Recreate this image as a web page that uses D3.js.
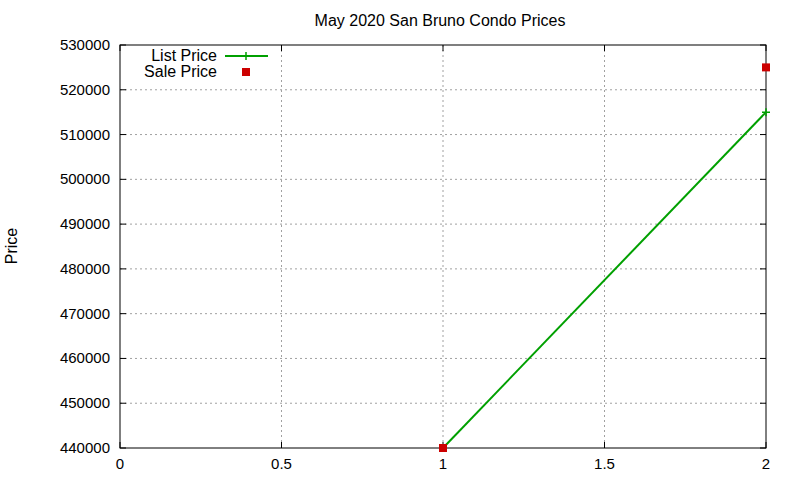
<!DOCTYPE html>
<html><head><meta charset="utf-8">
<script src="https://cdn.jsdelivr.net/npm/d3@7"></script>
<style>body{margin:0;background:#fff}text{font-family:"Liberation Sans",Arial,sans-serif;font-size:15px}.big{font-size:16px}</style>
</head><body><svg id="c" width="800" height="480"></svg>
<script>
const xTicks=[0,0.5,1,1.5,2];
const yTicks=[440000,450000,460000,470000,480000,490000,500000,510000,520000,530000];
const listX=[1,2], listY=[440000,515000];
const saleX=[1,2], saleY=[440000,525000];
const svg=d3.select("#c");
const L=120,R=766,T=45,B=448;
const x=d3.scaleLinear().domain([0,2]).range([L,R]);
const y=d3.scaleLinear().domain([440000,530000]).range([B,T]);
const g=svg.append("g");
xTicks.forEach(t=>{
  if(t>0&&t<2) g.append("line").attr("x1",x(t)).attr("x2",x(t)).attr("y1",T).attr("y2",B).attr("stroke","#a0a0a0").attr("stroke-dasharray","2,3");
  g.append("line").attr("x1",x(t)).attr("x2",x(t)).attr("y1",B).attr("y2",B-6).attr("stroke","#000");
  g.append("line").attr("x1",x(t)).attr("x2",x(t)).attr("y1",T).attr("y2",T+6).attr("stroke","#000");
  g.append("text").attr("x",x(t)).attr("y",B+21).attr("text-anchor","middle").text(t);
});
yTicks.forEach(t=>{
  if(t>440000&&t<530000) g.append("line").attr("x1",L).attr("x2",R).attr("y1",y(t)).attr("y2",y(t)).attr("stroke","#a0a0a0").attr("stroke-dasharray","2,3");
  g.append("line").attr("x1",L).attr("x2",L+6).attr("y1",y(t)).attr("y2",y(t)).attr("stroke","#000");
  g.append("line").attr("x1",R).attr("x2",R-6).attr("y1",y(t)).attr("y2",y(t)).attr("stroke","#000");
  g.append("text").attr("x",L-10).attr("y",y(t)+5).attr("text-anchor","end").text(t);
});
g.append("rect").attr("x",L).attr("y",T).attr("width",R-L).attr("height",B-T).attr("fill","none").attr("stroke","#000");
svg.append("text").attr("class","big").attr("x",440).attr("y",26).attr("text-anchor","middle").text("May 2020 San Bruno Condo Prices");
svg.append("text").attr("class","big").attr("transform","translate(17,246) rotate(-90)").attr("text-anchor","middle").text("Price");
const pts=listX.map((v,i)=>[x(v),y(listY[i])]);
svg.append("path").attr("d",d3.line()(pts)).attr("stroke","#00a000").attr("stroke-width",2).attr("fill","none");
const plus=(cx,cy)=>svg.append("path").attr("d",`M${cx-4},${cy}H${cx+4}M${cx},${cy-4}V${cy+4}`).attr("stroke","#00a000").attr("stroke-width",1.5);
pts.forEach(p=>plus(p[0],p[1]));
saleX.forEach((v,i)=>svg.append("rect").attr("x",x(v)-4).attr("y",y(saleY[i])-4).attr("width",8).attr("height",8).attr("fill","#cc0000"));
svg.append("text").attr("class","big").attr("x",217).attr("y",61).attr("text-anchor","end").text("List Price");
svg.append("line").attr("x1",225).attr("x2",268).attr("y1",56).attr("y2",56).attr("stroke","#00a000").attr("stroke-width",2);
plus(246,56);
svg.append("text").attr("class","big").attr("x",217).attr("y",77).attr("text-anchor","end").text("Sale Price");
svg.append("rect").attr("x",242).attr("y",68).attr("width",8).attr("height",8).attr("fill","#cc0000");
</script></body></html>
